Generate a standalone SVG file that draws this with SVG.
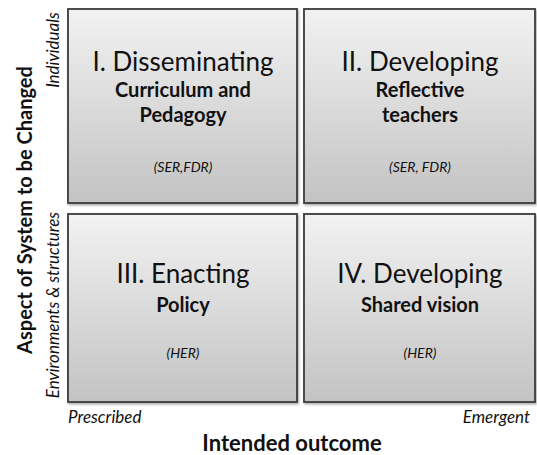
<svg xmlns="http://www.w3.org/2000/svg" width="537" height="455" viewBox="0 0 537 455">
<defs>
<linearGradient id="g" x1="0" y1="0" x2="0" y2="1">
<stop offset="0" stop-color="#f2f2f2"/>
<stop offset="1" stop-color="#c3c3c3"/>
</linearGradient>
<filter id="sh" x="-5%" y="-5%" width="110%" height="110%">
<feDropShadow dx="1" dy="1.5" stdDeviation="1.2" flood-color="#000" flood-opacity="0.35"/>
</filter>
<style>
.box{fill:url(#g);stroke:#3c3c3c;stroke-width:1.8;filter:url(#sh)}
.t{font-family:Lato,"Liberation Sans",sans-serif;fill:#111;text-anchor:middle}
.h{font-size:26px}
.b{font-size:20px;font-weight:bold}
.c{font-size:14px;font-style:italic}
.ax{font-size:17px;font-style:italic}
.al{font-size:22px;font-weight:bold}
.al2{font-size:20px;font-weight:bold}
</style>
</defs>
<rect width="537" height="455" fill="#fff"/>
<g id="q1">
<rect class="box" x="68" y="9" width="229" height="194"/>
<text class="t h" x="183" y="71">I. Disseminating</text>
<text class="t b" x="183" y="97">Curriculum and</text>
<text class="t b" x="183" y="122">Pedagogy</text>
<text class="t c" x="183" y="172">(SER,FDR)</text>
</g>
<g id="q2">
<rect class="box" x="304" y="9" width="231" height="194"/>
<text class="t h" x="420" y="71">II. Developing</text>
<text class="t b" x="420" y="97">Reflective</text>
<text class="t b" x="420" y="122">teachers</text>
<text class="t c" x="420" y="172">(SER, FDR)</text>
</g>
<g id="q3">
<rect class="box" x="68" y="214" width="229" height="188"/>
<text class="t h" x="183" y="283">III. Enacting</text>
<text class="t b" x="183" y="312">Policy</text>
<text class="t c" x="183" y="358">(HER)</text>
</g>
<g id="q4">
<rect class="box" x="304" y="214" width="231" height="188"/>
<text class="t h" x="420" y="283">IV. Developing</text>
<text class="t b" x="420" y="312">Shared vision</text>
<text class="t c" x="420" y="358">(HER)</text>
</g>
<g id="axes">
<text class="t ax" x="68" y="423" style="text-anchor:start">Prescribed</text>
<text class="t ax" x="530" y="423" style="text-anchor:end">Emergent</text>
<text class="t al" x="292" y="451">Intended outcome</text>
<text class="t al2" transform="translate(32,210) rotate(-90)">Aspect of System to be Changed</text>
<text class="t ax" transform="translate(59,50) rotate(-90)">Individuals</text>
<text class="t ax" transform="translate(59,305) rotate(-90)">Environments &amp; structures</text>
</g>
</svg>
